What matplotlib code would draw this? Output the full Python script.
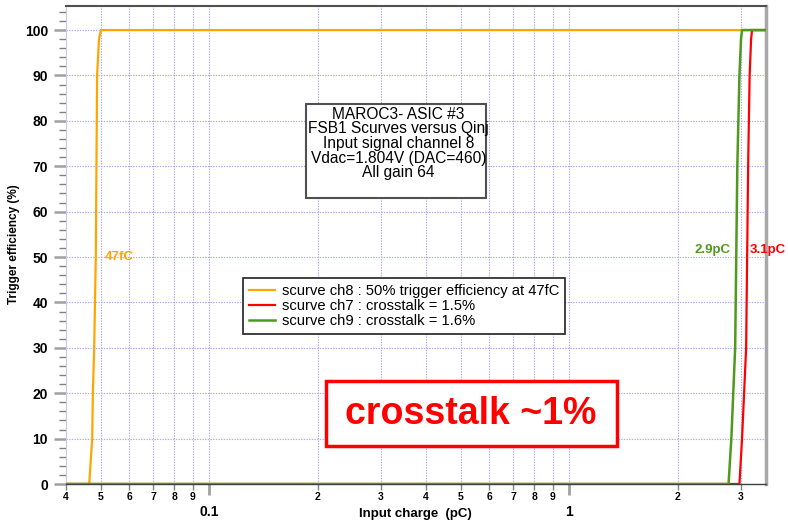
import matplotlib
matplotlib.use("Agg")
import matplotlib.pyplot as plt
from matplotlib.ticker import LogLocator, FuncFormatter, MultipleLocator, FixedLocator
from matplotlib.patches import Rectangle
import numpy as np

plt.rcParams['font.family'] = ['Liberation Sans', 'DejaVu Sans']

# ---- data ----
ch8_q = [0.040, 0.0464, 0.0473, 0.0475, 0.0479, 0.0484, 0.0486, 0.0488, 0.0494, 0.0500, 3.52]
ch8_eff = [0, 0, 10, 20, 30, 50, 70, 90, 98, 100, 100]
ch7_q = [0.040, 2.97, 3.02, 3.10, 3.12, 3.14, 3.17, 3.20, 3.22, 3.52]
ch7_eff = [0, 0, 10, 30, 50, 70, 90, 98, 100, 100]
ch9_q = [0.040, 2.77, 2.82, 2.89, 2.91, 2.93, 2.97, 3.00, 3.02, 3.52]
ch9_eff = [0, 0, 10, 30, 50, 70, 90, 98, 100, 100]

labels = ["scurve ch8 : 50% trigger efficiency at 47fC",
          "scurve ch7 : crosstalk = 1.5%",
          "scurve ch9 : crosstalk = 1.6%"]
info_lines = ["MAROC3- ASIC #3", "FSB1 Scurves versus Qinj", "Input signal channel 8",
              "Vdac=1.804V (DAC=460)", "All gain 64"]

ORANGE = '#ffa500'
RED = '#ff0000'
GREEN = '#4f9a1c'

W, H = 788, 528
fig = plt.figure(figsize=(W / 100, H / 100), dpi=100)
L, R, B, T = 66, 766, 484, 6
ax = fig.add_axes([L / W, (H - B) / H, (R - L) / W, (B - T) / H])

ax.plot(ch8_q, ch8_eff, color=ORANGE, lw=1.6, label=labels[0], zorder=3)
ax.plot(ch7_q, ch7_eff, color=RED, lw=1.6, label=labels[1], zorder=4)
ax.plot(ch9_q, ch9_eff, color=GREEN, lw=1.8, label=labels[2], zorder=5)

ax.set_xscale('log')
ax.set_xlim(0.04, 3.52)
ax.set_ylim(0, 105.3)

# x ticks
ax.xaxis.set_major_locator(FixedLocator([0.1, 1.0]))
ax.xaxis.set_major_formatter(FuncFormatter(lambda v, p: "0.1" if abs(v - 0.1) < 1e-9 else "1"))
ax.xaxis.set_minor_locator(LogLocator(base=10, subs=np.arange(2, 10), numticks=20))

def minor_fmt(v, p):
    e = np.floor(np.log10(v) + 1e-9)
    m = int(round(v / 10 ** e))
    return str(m)

ax.xaxis.set_minor_formatter(FuncFormatter(minor_fmt))
ax.tick_params(axis='x', which='major', length=8, width=2, color='#a0a0a0', pad=7,
               labelsize=10)
ax.tick_params(axis='x', which='minor', length=4, width=1, color='#808080', pad=2,
               labelsize=7.5)
for lab in ax.get_xticklabels(which='both'):
    lab.set_fontweight('bold')

# y ticks
ax.yaxis.set_major_locator(MultipleLocator(10))
ax.yaxis.set_minor_locator(MultipleLocator(2))
ax.tick_params(axis='y', which='major', length=9, width=1.8, color='#a0a0a0', pad=4,
               labelsize=10)
ax.tick_params(axis='y', which='minor', length=5, width=1, color='#808080')
for lab in ax.get_yticklabels():
    lab.set_fontweight('bold')

# grid
ax.grid(True, which='both', axis='x', color='#a8a8f0', ls=(0, (1.2, 1.2)), lw=0.8, zorder=0)
ax.grid(True, which='major', axis='y', color='#a8a8f0', ls=(0, (1.2, 1.2)), lw=0.8, zorder=0)

# spines
ax.spines['left'].set_color('#c8c8f0')
ax.spines['left'].set_linewidth(0.8)
ax.spines['top'].set_color('#505050')
ax.spines['top'].set_linewidth(1.5)
ax.spines['right'].set_color('#a8a8a8')
ax.spines['right'].set_linewidth(2.5)
ax.spines['bottom'].set_color('#404040')
ax.spines['bottom'].set_linewidth(1.0)

# axis labels
fig.text(415.5 / W, 1 - 514 / H, "Input charge  (pC)", ha='center', va='center',
         fontsize=9.5, fontweight='bold')
fig.text(14 / W, 1 - 244 / H, "Trigger efficiency (%)", ha='center', va='center',
         rotation=90, fontsize=8.5, fontweight='bold')

# annotations
ax.text(0.0511, 50, "47fC", color=ORANGE, fontsize=9.5, fontweight='bold',
        ha='left', va='center', zorder=6)
ax.text(2.80, 51.5, "2.9pC", color=GREEN, fontsize=9.5, fontweight='bold',
        ha='right', va='center', zorder=6)
ax.text(3.18, 51.5, "3.1pC", color=RED, fontsize=9.5, fontweight='bold',
        ha='left', va='center', zorder=6, clip_on=False)

def px2ax(x, y):
    return (x - L) / (R - L), (B - y) / (B - T)

# info box
x0, y0 = px2ax(306, 198)
x1, y1 = px2ax(486, 104)
ax.add_patch(Rectangle((x0, y0), x1 - x0, y1 - y0, transform=ax.transAxes,
                       facecolor='white', edgecolor='#505050', lw=1.5, zorder=7))
cx, cy = px2ax(398.5, 143.5)
ax.text(cx, cy, "\n".join(info_lines), transform=ax.transAxes, ha='center', va='center',
        fontsize=11.2, linespacing=0.96, zorder=8)

# legend
lx, ly = px2ax(243, 278)
leg = ax.legend(loc='upper left', bbox_to_anchor=(lx, ly), fontsize=10.6, frameon=True,
                fancybox=False, borderaxespad=0, borderpad=0.42, labelspacing=0.06,
                handlelength=1.75, handletextpad=0.45)
leg.get_frame().set_edgecolor('#202020')
leg.get_frame().set_linewidth(1.2)
leg.get_frame().set_alpha(1)
leg.set_zorder(9)

# crosstalk box
x0, y0 = px2ax(326, 446)
x1, y1 = px2ax(617, 381)
ax.add_patch(Rectangle((x0, y0), x1 - x0, y1 - y0, transform=ax.transAxes,
                       facecolor='white', edgecolor=RED, lw=2.5, zorder=7))
cx, cy = px2ax(471, 414)
ax.text(cx, cy, "crosstalk ~1%", transform=ax.transAxes, ha='center', va='center',
        fontsize=27, fontweight='bold', color=RED, zorder=8)

fig.savefig("out.png", dpi=100)
